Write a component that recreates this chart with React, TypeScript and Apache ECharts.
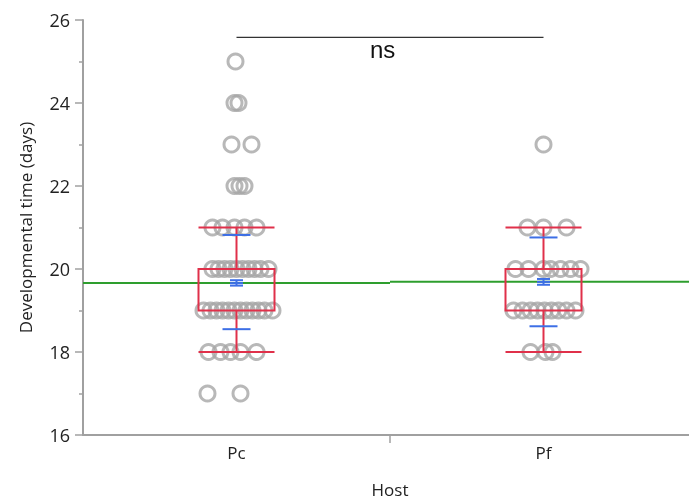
import React, { useEffect, useRef } from "react";
import * as echarts from "echarts";

const categories = ["Pc", "Pf"];
const yTicks = [16, 18, 20, 22, 24, 26];

// [jitter offset in px at reference scale, value]
const pcPoints: [number, number][] = [
  [-1, 25],
  [-2, 24], [2, 24],
  [-5, 23], [15, 23],
  [-2, 22], [3, 22], [8, 22],
  [-24, 21], [-14, 21], [-2, 21], [8, 21], [20, 21],
  [-24, 20], [-18, 20], [-12, 20], [-6, 20], [0, 20], [6, 20], [12, 20], [18, 20], [24, 20], [32, 20],
  [-33, 19], [-26, 19], [-20, 19], [-14, 19], [-8, 19], [-2, 19], [4, 19], [10, 19], [16, 19], [22, 19], [28, 19], [36, 19],
  [-28, 18], [-16, 18], [-6, 18], [4, 18], [20, 18],
  [-29, 17], [4, 17],
];
const pfPoints: [number, number][] = [
  [0, 23],
  [-16, 21], [0, 21], [23, 21],
  [-28, 20], [-15, 20], [0, 20], [7, 20], [17, 20], [27, 20], [37, 20],
  [-30, 19], [-21, 19], [-13, 19], [-6, 19], [1, 19], [8, 19], [15, 19], [23, 19], [32, 19],
  [-13, 18], [2, 18], [9, 18],
];
const groupPoints = [pcPoints, pfPoints];

// box: [min, q1, q3, max]
const boxStats = [
  [18, 19, 20, 21],
  [18, 19, 20, 21],
];
// mean, SE low, SE high, SD low, SD high
const meanVals = [19.66, 19.69];
const seLow = [19.6, 19.62];
const seHigh = [19.73, 19.76];
const sdLow = [18.55, 18.62];
const sdHigh = [20.82, 20.76];

const PX_PER_UNIT = 307;

export default function App() {
  const ref = useRef<HTMLDivElement>(null);
  useEffect(() => {
    if (!ref.current) return;
    const chart = echarts.init(ref.current, null, { renderer: "svg" });

    const scatterData: number[][] = [];
    groupPoints.forEach((pts, gi) => {
      pts.forEach(([off, v]) => scatterData.push([gi + 0.5 + off / PX_PER_UNIT, v]));
    });

    const boxData = boxStats.map((b, i) => [i + 0.5, ...b]);
    const errData = meanVals.map((m, i) => [i + 0.5, m, seLow[i], seHigh[i], sdLow[i], sdHigh[i]]);

    const red = "#e0304a";
    const blue = "#3d6fe6";

    const boxHalf = 38 / PX_PER_UNIT;

    chart.setOption({
      animation: false,
      grid: { left: 83, top: 20, width: 614, height: 415, outerBoundsMode: "none", containLabel: false },
      xAxis: {
        type: "value",
        min: 0,
        max: 2,
        interval: 1,
        name: "Host",
        nameLocation: "middle",
        nameGap: 46,
        nameTextStyle: { fontFamily: "Open Sans", fontSize: 17, color: "#222" },
        axisLine: { show: true, lineStyle: { color: "#a0a0a0", width: 2 } },
        axisTick: { show: true, customValues: [1], length: 8, lineStyle: { color: "#a0a0a0", width: 1.5 } },
        axisLabel: {
          customValues: [0.5, 1.5],
          formatter: (v: number) => categories[Math.floor(v)],
          fontFamily: "Open Sans",
          fontSize: 17,
          color: "#222",
          margin: 9,
        },
        splitLine: { show: false },
      },
      yAxis: {
        type: "value",
        min: 16,
        max: 26,
        interval: 2,
        name: "Developmental time (days)",
        nameLocation: "middle",
        nameGap: 49,
        nameTextStyle: { fontFamily: "Open Sans", fontSize: 17, color: "#222" },
        axisLine: { show: true, lineStyle: { color: "#a0a0a0", width: 2 } },
        axisTick: { show: true, length: 8, lineStyle: { color: "#a0a0a0", width: 1.5 } },
        minorTick: { show: true, splitNumber: 2, length: 4, lineStyle: { color: "#a0a0a0", width: 1.5 } },
        axisLabel: {
          fontFamily: "Open Sans",
          fontSize: 18,
          color: "#222",
          margin: 13,
          formatter: (v: number) => (yTicks.includes(v) ? String(v) : ""),
        },
        splitLine: { show: false },
      },
      series: [
        {
          type: "scatter",
          data: scatterData,
          symbol: "circle",
          symbolSize: 15,
          itemStyle: { color: "rgba(255,255,255,0)", borderColor: "#a6a6a6", borderWidth: 3 },
          z: 2,
        },
        {
          type: "line",
          data: [[0, meanVals[0]], [1, meanVals[0]]],
          symbol: "none",
          lineStyle: { color: "#2e9e2e", width: 2 },
          z: 3,
        },
        {
          type: "line",
          data: [[1, meanVals[1]], [2, meanVals[1]]],
          symbol: "none",
          lineStyle: { color: "#2e9e2e", width: 2 },
          z: 3,
        },
        {
          type: "custom",
          data: boxData,
          z: 4,
          renderItem: (params: any, api: any) => {
            const x = api.value(0);
            const mn = api.value(1), q1 = api.value(2), q3 = api.value(3), mx = api.value(4);
            const pl = (xx: number, yy: number) => api.coord([xx, yy]);
            const style = { stroke: red, lineWidth: 2, fill: "none" };
            const tl = pl(x - boxHalf, q3);
            const br = pl(x + boxHalf, q1);
            const c = pl(x, mx), d = pl(x, q3), e = pl(x, q1), f = pl(x, mn);
            const capL1 = pl(x - boxHalf, mx), capR1 = pl(x + boxHalf, mx);
            const capL2 = pl(x - boxHalf, mn), capR2 = pl(x + boxHalf, mn);
            return {
              type: "group",
              children: [
                { type: "rect", shape: { x: tl[0], y: tl[1], width: br[0] - tl[0], height: br[1] - tl[1] }, style },
                { type: "line", shape: { x1: c[0], y1: c[1], x2: d[0], y2: d[1] }, style },
                { type: "line", shape: { x1: e[0], y1: e[1], x2: f[0], y2: f[1] }, style },
                { type: "line", shape: { x1: capL1[0], y1: capL1[1], x2: capR1[0], y2: capR1[1] }, style },
                { type: "line", shape: { x1: capL2[0], y1: capL2[1], x2: capR2[0], y2: capR2[1] }, style },
              ],
            };
          },
        },
        {
          type: "custom",
          data: errData,
          z: 5,
          renderItem: (params: any, api: any) => {
            const x = api.value(0);
            const m = api.value(1), sl = api.value(2), sh = api.value(3), dl = api.value(4), dh = api.value(5);
            const pl = (xx: number, yy: number) => api.coord([xx, yy]);
            const style = { stroke: blue, lineWidth: 2, fill: "none" };
            const wSd = 14 / PX_PER_UNIT;
            const wSe = 6.5 / PX_PER_UNIT;
            const hl = (yy: number, w: number) => {
              const a = pl(x - w, yy), b = pl(x + w, yy);
              return { type: "line", shape: { x1: a[0], y1: a[1], x2: b[0], y2: b[1] }, style };
            };
            const vl = (y1: number, y2: number) => {
              const a = pl(x, y1), b = pl(x, y2);
              return { type: "line", shape: { x1: a[0], y1: a[1], x2: b[0], y2: b[1] }, style };
            };
            return {
              type: "group",
              children: [hl(dl, wSd), hl(dh, wSd), hl(sl, wSe), hl(sh, wSe), vl(sl, sh), hl(m, wSe)],
            };
          },
        },
        {
          type: "line",
          data: [[0.5, 25.58], [1.5, 25.58]],
          symbol: "none",
          lineStyle: { color: "#333", width: 1.2 },
          z: 6,
        },
      ],
      graphic: [
        {
          type: "text",
          left: 370,
          top: 37,
          style: { text: "ns", font: "24px 'Liberation Sans', Arial, sans-serif", fill: "#111" },
        },
      ],
    });
    return () => chart.dispose();
  }, []);
  return <div ref={ref} style={{ position: "fixed", left: 0, top: 0, width: 689, height: 503 }} />;
}
